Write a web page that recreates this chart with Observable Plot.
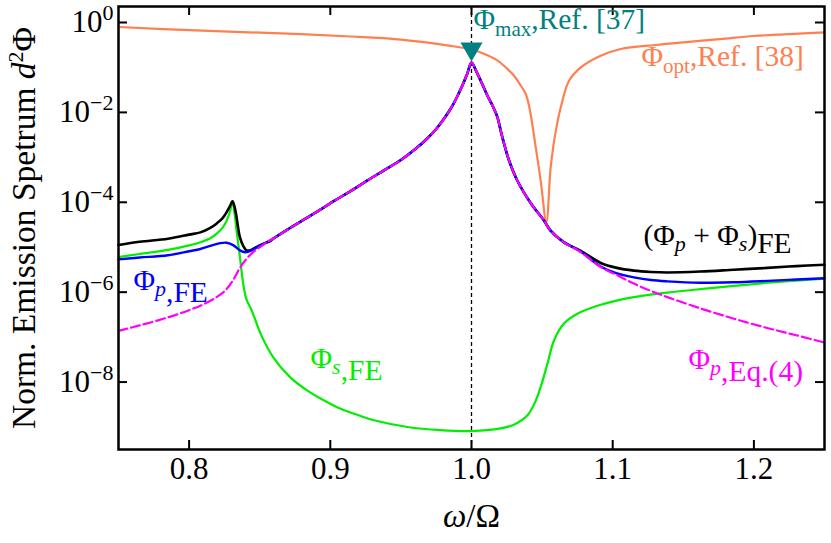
<!DOCTYPE html>
<html>
<head>
<meta charset="utf-8">
<script src="https://cdn.jsdelivr.net/npm/d3@7"></script>
<script src="https://cdn.jsdelivr.net/npm/@observablehq/plot@0.6"></script>
<style>
  html, body { margin: 0; padding: 0; background: #fff; }
  #chart { width: 831px; height: 543px; }
</style>
</head>
<body>
<div id="chart"></div>
<script>
// ---------- data ----------
const xTicks = [0.8, 0.9, 1.0, 1.1, 1.2];
const yTicks = [1, 1e-2, 1e-4, 1e-6, 1e-8];

// Phi_opt, Ref. [38]
const optX = [0.75, 0.80, 0.8793, 0.92, 0.95, 0.9853, 1.0, 1.0066, 1.018, 1.025, 1.030, 1.034, 1.0384, 1.041, 1.0455, 1.049, 1.053, 1.0561, 1.0597, 1.0644, 1.069, 1.0774, 1.0915, 1.1057, 1.13, 1.15, 1.176, 1.2, 1.225, 1.25];
const optY = [0.794, 0.676, 0.550, 0.479, 0.417, 0.302, 0.251, 0.214, 0.145, 0.0955, 0.0661, 0.0437, 0.0257, 0.0129, 1.66e-3, 3.02e-4, 3.63e-5, 6.03e-4, 3.89e-3, 0.0182, 0.0501, 0.100, 0.182, 0.257, 0.316, 0.363, 0.427, 0.501, 0.550, 0.603];

// Phi_p, Eq.(4)
const eqX = [0.75, 0.765, 0.785, 0.80, 0.81, 0.82, 0.826, 0.831, 0.836, 0.8406, 0.845, 0.85, 0.855, 0.86, 0.87, 0.88, 0.89, 0.9027, 0.915, 0.926, 0.938, 0.95, 0.96, 0.969, 0.975, 0.981, 0.986, 0.990, 0.994, 0.997, 1.000, 1.0033, 1.0066, 1.0113, 1.0149, 1.0184, 1.0207, 1.0231, 1.0266, 1.0325, 1.042, 1.0514, 1.056, 1.065, 1.0774, 1.0915, 1.103, 1.115, 1.127, 1.1387, 1.162, 1.1858, 1.21, 1.23, 1.25];
const eqY = [1.38e-7, 1.82e-7, 2.75e-7, 3.98e-7, 5.37e-7, 7.94e-7, 1.12e-6, 1.82e-6, 3.47e-6, 5.50e-6, 7.59e-6, 1.0e-5, 1.29e-5, 1.58e-5, 2.51e-5, 3.89e-5, 6.03e-5, 1.07e-4, 1.82e-4, 3.02e-4, 5.13e-4, 8.71e-4, 1.51e-3, 2.69e-3, 4.27e-3, 7.59e-3, 1.32e-2, 2.29e-2, 4.27e-2, 7.24e-2, 0.129, 8.32e-2, 5.01e-2, 2.34e-2, 1.41e-2, 7.76e-3, 3.89e-3, 2.0e-3, 8.51e-4, 3.02e-4, 9.55e-5, 3.89e-5, 2.34e-5, 1.32e-5, 7.76e-6, 3.63e-6, 2.40e-6, 1.55e-6, 1.07e-6, 7.76e-7, 4.37e-7, 2.57e-7, 1.58e-7, 1.10e-7, 7.59e-8];

// Phi_p, FE
const pFeX = [0.75, 0.765, 0.785, 0.80, 0.808, 0.815, 0.822, 0.8266, 0.8315, 0.836, 0.8397, 0.8443, 0.8503, 0.855, 0.86, 0.87, 0.88, 0.89, 0.9027, 0.915, 0.926, 0.938, 0.95, 0.96, 0.969, 0.975, 0.981, 0.986, 0.990, 0.994, 0.997, 1.000, 1.0033, 1.0066, 1.0113, 1.0149, 1.0184, 1.0207, 1.0231, 1.0266, 1.0325, 1.042, 1.0514, 1.056, 1.065, 1.0774, 1.0915, 1.103, 1.115, 1.127, 1.1387, 1.162, 1.1858, 1.2095, 1.23, 1.25];
const pFeY = [5.37e-6, 5.89e-6, 6.61e-6, 8.13e-6, 9.12e-6, 1.07e-5, 1.23e-5, 1.26e-5, 1.10e-5, 8.51e-6, 7.76e-6, 8.51e-6, 1.10e-5, 1.29e-5, 1.58e-5, 2.51e-5, 3.89e-5, 6.03e-5, 1.07e-4, 1.82e-4, 3.02e-4, 5.13e-4, 8.71e-4, 1.51e-3, 2.69e-3, 4.27e-3, 7.59e-3, 1.32e-2, 2.29e-2, 4.27e-2, 7.24e-2, 0.129, 8.32e-2, 5.01e-2, 2.34e-2, 1.41e-2, 7.76e-3, 3.89e-3, 2.0e-3, 8.51e-4, 3.02e-4, 9.55e-5, 3.89e-5, 2.34e-5, 1.32e-5, 7.94e-6, 3.72e-6, 2.63e-6, 2.14e-6, 1.86e-6, 1.74e-6, 1.62e-6, 1.66e-6, 1.78e-6, 1.91e-6, 2.04e-6];

// (Phi_p + Phi_s), FE
const sumX = [0.75, 0.765, 0.785, 0.80, 0.808, 0.815, 0.8196, 0.8236, 0.8266, 0.829, 0.8307, 0.8322, 0.8336, 0.836, 0.8385, 0.8406, 0.844, 0.848, 0.853, 0.858, 0.86, 0.87, 0.88, 0.89, 0.9027, 0.915, 0.926, 0.938, 0.95, 0.96, 0.969, 0.975, 0.981, 0.986, 0.990, 0.994, 0.997, 1.000, 1.0033, 1.0066, 1.0113, 1.0149, 1.0184, 1.0207, 1.0231, 1.0266, 1.0325, 1.042, 1.0514, 1.056, 1.065, 1.0774, 1.0915, 1.103, 1.115, 1.127, 1.1387, 1.162, 1.1858, 1.2095, 1.23, 1.25];
const sumY = [1.12e-5, 1.32e-5, 1.55e-5, 1.91e-5, 2.14e-5, 2.69e-5, 3.39e-5, 4.37e-5, 6.03e-5, 8.32e-5, 1.05e-4, 7.94e-5, 4.68e-5, 1.66e-5, 1.05e-5, 8.51e-6, 8.71e-6, 1.02e-5, 1.20e-5, 1.41e-5, 1.58e-5, 2.51e-5, 3.89e-5, 6.03e-5, 1.07e-4, 1.82e-4, 3.02e-4, 5.13e-4, 8.71e-4, 1.51e-3, 2.69e-3, 4.27e-3, 7.59e-3, 1.32e-2, 2.29e-2, 4.27e-2, 7.24e-2, 0.129, 8.32e-2, 5.01e-2, 2.34e-2, 1.41e-2, 7.76e-3, 3.89e-3, 2.0e-3, 8.51e-4, 3.02e-4, 9.55e-5, 3.89e-5, 2.34e-5, 1.32e-5, 8.32e-6, 4.47e-6, 3.47e-6, 3.02e-6, 2.82e-6, 2.75e-6, 2.88e-6, 3.16e-6, 3.47e-6, 3.80e-6, 4.07e-6];

// Phi_s, FE
const sFeX = [0.75, 0.765, 0.785, 0.80, 0.808, 0.815, 0.8196, 0.8236, 0.8266, 0.829, 0.8307, 0.8322, 0.8336, 0.836, 0.838, 0.8405, 0.8445, 0.851, 0.8596, 0.8715, 0.8833, 0.895, 0.9069, 0.92, 0.931, 0.9547, 0.978, 1.0, 1.0207, 1.03, 1.0396, 1.045, 1.049, 1.0538, 1.0585, 1.0655, 1.075, 1.0915, 1.115, 1.1387, 1.162, 1.1858, 1.21, 1.25];
const sFeY = [6.03e-6, 7.08e-6, 8.71e-6, 1.10e-5, 1.29e-5, 1.58e-5, 2.0e-5, 2.69e-5, 3.89e-5, 6.31e-5, 1.05e-4, 5.62e-5, 2.34e-5, 6.03e-6, 1.82e-6, 7.08e-7, 3.80e-7, 1.12e-7, 3.55e-8, 1.29e-8, 6.61e-9, 3.98e-9, 2.57e-9, 1.82e-9, 1.41e-9, 1.0e-9, 8.51e-10, 8.13e-10, 9.33e-10, 1.12e-9, 1.82e-9, 3.55e-9, 7.76e-9, 2.57e-8, 8.51e-8, 2.0e-7, 3.31e-7, 5.25e-7, 7.76e-7, 9.77e-7, 1.17e-6, 1.38e-6, 1.62e-6, 2.0e-6];

// Phi_max, Ref. [37] marker
const maxMarker = [{x: 1.0, y: 0.26}];

// series labels: anchor (data coords) and rich-text parts
const labelX = [1.0014, 1.1204, 1.1218, 0.7606, 0.886, 1.1537];
const labelY = [0.70, 0.11, 1.1e-5, 1.1e-6, 2.1e-8, 2.0e-8];
const labelColor = ["#008080", "#ff7f50", "#000000", "#0000ff", "#00ee00", "#ff00ff"];
const labelParts = [
  [["Φ"], ["max", "sub"], [",Ref. [37]", "up"]],
  [["Φ"], ["opt", "sub"], [",Ref. [38]", "up"]],
  [["(Φ"], ["p", "subi"], [" + Φ", "up"], ["s", "subi"], [")", "up"], ["FE", "low"]],
  [["Φ"], ["p", "subi"], [",FE", "low2"]],
  [["Φ"], ["s", "subi"], [",FE", "low2"]],
  [["Φ"], ["p", "subi"], [",Eq.(4)", "low2"]]
];
const xTitle = "ω/Ω";
const yTitle = "Norm. Emission Spetrum d²Φ";

// ---------- chart ----------
const FONT = "'Liberation Serif', 'DejaVu Serif', serif";
const rows = (xs, ys) => xs.map((x, i) => ({x, y: ys[i]}));
const W = 831, H = 543, mT = 6, mR = 7, mB = 94, mL = 118;
const innerW = W - mL - mR, innerH = H - mT - mB, tickLen = 9;

const labelText = labelParts.map(p => p.map(q => q[0]).join(""));
const labels = labelX.map((x, i) => ({x, y: labelY[i], c: labelColor[i], t: labelText[i]}));

const svg = Plot.plot({
  width: W, height: H,
  marginTop: mT, marginRight: mR, marginBottom: mB, marginLeft: mL,
  style: {fontFamily: FONT, fontSize: "31px", background: "white", color: "black", overflow: "visible"},
  x: {domain: [0.75, 1.25]},
  y: {type: "log", domain: [3.16e-10, 2.27]},
  marks: [
    Plot.axisX(xTicks, {tickSize: 0, tickPadding: 7, tickFormat: d3.format(".1f"), label: null, fontSize: 31}),
    Plot.axisY(yTicks, {tickSize: 0, tickPadding: 5, tickFormat: d => "10^" + Math.round(Math.log10(d)), label: null, fontSize: 31}),
    Plot.ruleX(xTicks, {insetTop: innerH - tickLen, strokeWidth: 2}),
    Plot.ruleX(xTicks, {insetBottom: innerH - tickLen, strokeWidth: 2}),
    Plot.ruleY(yTicks, {insetRight: innerW - tickLen, strokeWidth: 2}),
    Plot.ruleY(yTicks, {insetLeft: innerW - tickLen, strokeWidth: 2}),
    Plot.line(rows(optX, optY), {x: "x", y: "y", stroke: "#ff7f50", strokeWidth: 2.2, curve: "catmull-rom"}),
    Plot.line(rows(sFeX, sFeY), {x: "x", y: "y", stroke: "#00ee00", strokeWidth: 2.2, curve: "catmull-rom"}),
    Plot.line(rows(sumX, sumY), {x: "x", y: "y", stroke: "#000000", strokeWidth: 2.6, curve: "catmull-rom"}),
    Plot.line(rows(pFeX, pFeY), {x: "x", y: "y", stroke: "#0000ff", strokeWidth: 2.4, curve: "catmull-rom"}),
    Plot.ruleX([1.0], {stroke: "black", strokeWidth: 1.3, strokeDasharray: "4,3"}),
    Plot.line(rows(eqX, eqY), {x: "x", y: "y", stroke: "#ff00ff", strokeWidth: 2.2, strokeDasharray: "9,4", curve: "catmull-rom"}),
    Plot.dot(maxMarker, {x: "x", y: "y", symbol: "triangle", r: 8.2, rotate: 180, fill: "#008080", stroke: "none"}),
    Plot.text(labels, {x: "x", y: "y", text: "t", fill: "c", textAnchor: "start", lineAnchor: "bottom", fontSize: 29.5}),
    Plot.text([xTitle], {frameAnchor: "bottom", dy: 77, text: d => d, textAnchor: "middle", lineAnchor: "bottom", fontSize: 33}),
    Plot.text([yTitle], {frameAnchor: "left", dx: -84, rotate: -90, text: d => d, textAnchor: "middle", lineAnchor: "bottom", fontSize: 33.5}),
    Plot.frame({stroke: "black", strokeWidth: 2.5})
  ]
});

const S = d3.select(svg);
S.selectAll("text").each(function () {
  const content = this.textContent;
  const t = d3.select(this);
  if (content.startsWith("10^")) {
    // y tick labels as 10 with superscript exponent
    const e = content.slice(3).replace("-", "\u2212");
    t.text(null);
    t.append("tspan").text("10");
    t.append("tspan").attr("dy", "-12").attr("font-size", "22").text(e);
    return;
  }
  const li = labelText.indexOf(content);
  if (li >= 0) {
    t.text(null);
    let cur = 0;
    for (const [txt, kind] of labelParts[li]) {
      const sp = t.append("tspan").text(txt);
      let target = 0, size = null, italic = false;
      if (kind === "sub") { target = 7; size = 21; }
      else if (kind === "subi") { target = 6; size = 22; italic = true; }
      else if (kind === "low") { target = 8; size = 29.5; }
      else if (kind === "low2") { target = 12; size = 29.5; }
      if (target - cur !== 0) sp.attr("dy", target - cur);
      if (size) sp.attr("font-size", size);
      if (italic) sp.attr("font-style", "italic");
      cur = target;
    }
    return;
  }
  if (content === xTitle) {
    t.text(null);
    t.append("tspan").attr("font-style", "italic").text("ω");
    t.append("tspan").text("/Ω");
    return;
  }
  if (content === yTitle) {
    t.text(null);
    t.append("tspan").text("Norm. Emission Spetrum ");
    t.append("tspan").attr("font-style", "italic").text("d");
    t.append("tspan").attr("dy", "-12").attr("font-size", "22").text("2");
    t.append("tspan").attr("dy", "12").text("Φ");
  }
});

document.getElementById("chart").appendChild(svg);
</script>
</body>
</html>
